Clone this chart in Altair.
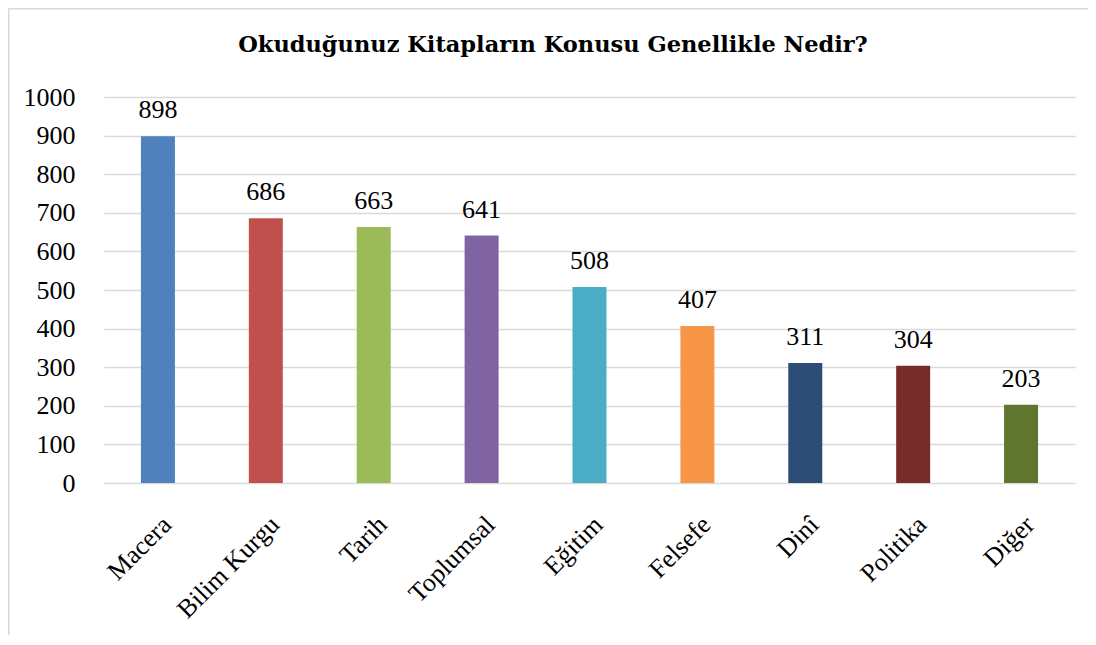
import altair as alt
import pandas as pd

categories = ["Macera", "Bilim Kurgu", "Tarih", "Toplumsal", "Eğitim", "Felsefe", "Dinî", "Politika", "Diğer"]
values = [898, 686, 663, 641, 508, 407, 311, 304, 203]
colors = ["#4F81BD", "#C0504D", "#9BBB59", "#8064A2", "#4BACC6", "#F79646", "#2C4D75", "#772C2A", "#5F7530"]
y_ticks = [0, 100, 200, 300, 400, 500, 600, 700, 800, 900, 1000]
title_text = "Okuduğunuz Kitapların Konusu Genellikle Nedir?"

df = pd.DataFrame({"konu": categories, "deger": values})

FONT = "Liberation Serif"
TFONT = "DejaVu Serif"
FS = 26
W, H = 971, 386
PL, PT, PR, PB = 96, 89, 13, 152

xscale = alt.Scale(paddingInner=0.685, paddingOuter=0.3425)
yscale = alt.Scale(domain=[0, 1000], nice=False)

x = alt.X("konu:N", sort=categories, title=None, scale=xscale,
          axis=alt.Axis(labelAngle=-45, labelFont=FONT, labelFontSize=FS, labelColor="#000000",
                        labelPadding=28, ticks=False, domain=False, grid=False, labelOverlap=False))
y = alt.Y("deger:Q", title=None, scale=yscale,
          axis=alt.Axis(values=y_ticks, format="d", labelFont=FONT, labelFontSize=FS, labelColor="#000000",
                        labelPadding=29, ticks=False, domain=False, labelOverlap=False,
                        grid=True, gridColor="#D9D9D9", gridWidth=1.5))

base = alt.Chart(df)
bars = base.mark_bar().encode(
    x=x, y=y,
    color=alt.Color("konu:N", sort=categories,
                    scale=alt.Scale(domain=categories, range=colors), legend=None),
)
labels = base.mark_text(font=FONT, fontSize=FS, color="#000000", baseline="alphabetic", dy=-18).encode(
    x=x, y=y, text="deger:Q",
)

frame_df = pd.DataFrame({"k": [0]})
top_border = alt.Chart(frame_df).mark_rule(color="#D9D9D9", strokeWidth=2).encode(
    x=alt.value(-PL + 0.5), x2=alt.value(W + PR), y=alt.value(-PT + 0.5)
)
left_border = alt.Chart(frame_df).mark_rule(color="#D9D9D9", strokeWidth=2).encode(
    x=alt.value(-PL + 0.5), y=alt.value(-PT + 0.5), y2=alt.value(H + PB)
)
title_mark = alt.Chart(frame_df).mark_text(font=TFONT, fontSize=22.5, fontWeight="bold", color="#000000",
                                           align="center", baseline="alphabetic").encode(
    x=alt.value(553 - 8 - PL), y=alt.value(52 - 8 - PT), text=alt.value(title_text)
)

chart = alt.layer(bars, labels, top_border, left_border, title_mark).properties(
    width=W, height=H,
    autosize=alt.AutoSizeParams(type="none"),
    padding={"left": PL, "top": PT, "right": PR, "bottom": PB},
).configure(background="#FFFFFF", view=alt.ViewConfig(stroke="transparent", strokeWidth=0))

chart.save("out.html", embed_options={"renderer": "svg", "actions": False})
